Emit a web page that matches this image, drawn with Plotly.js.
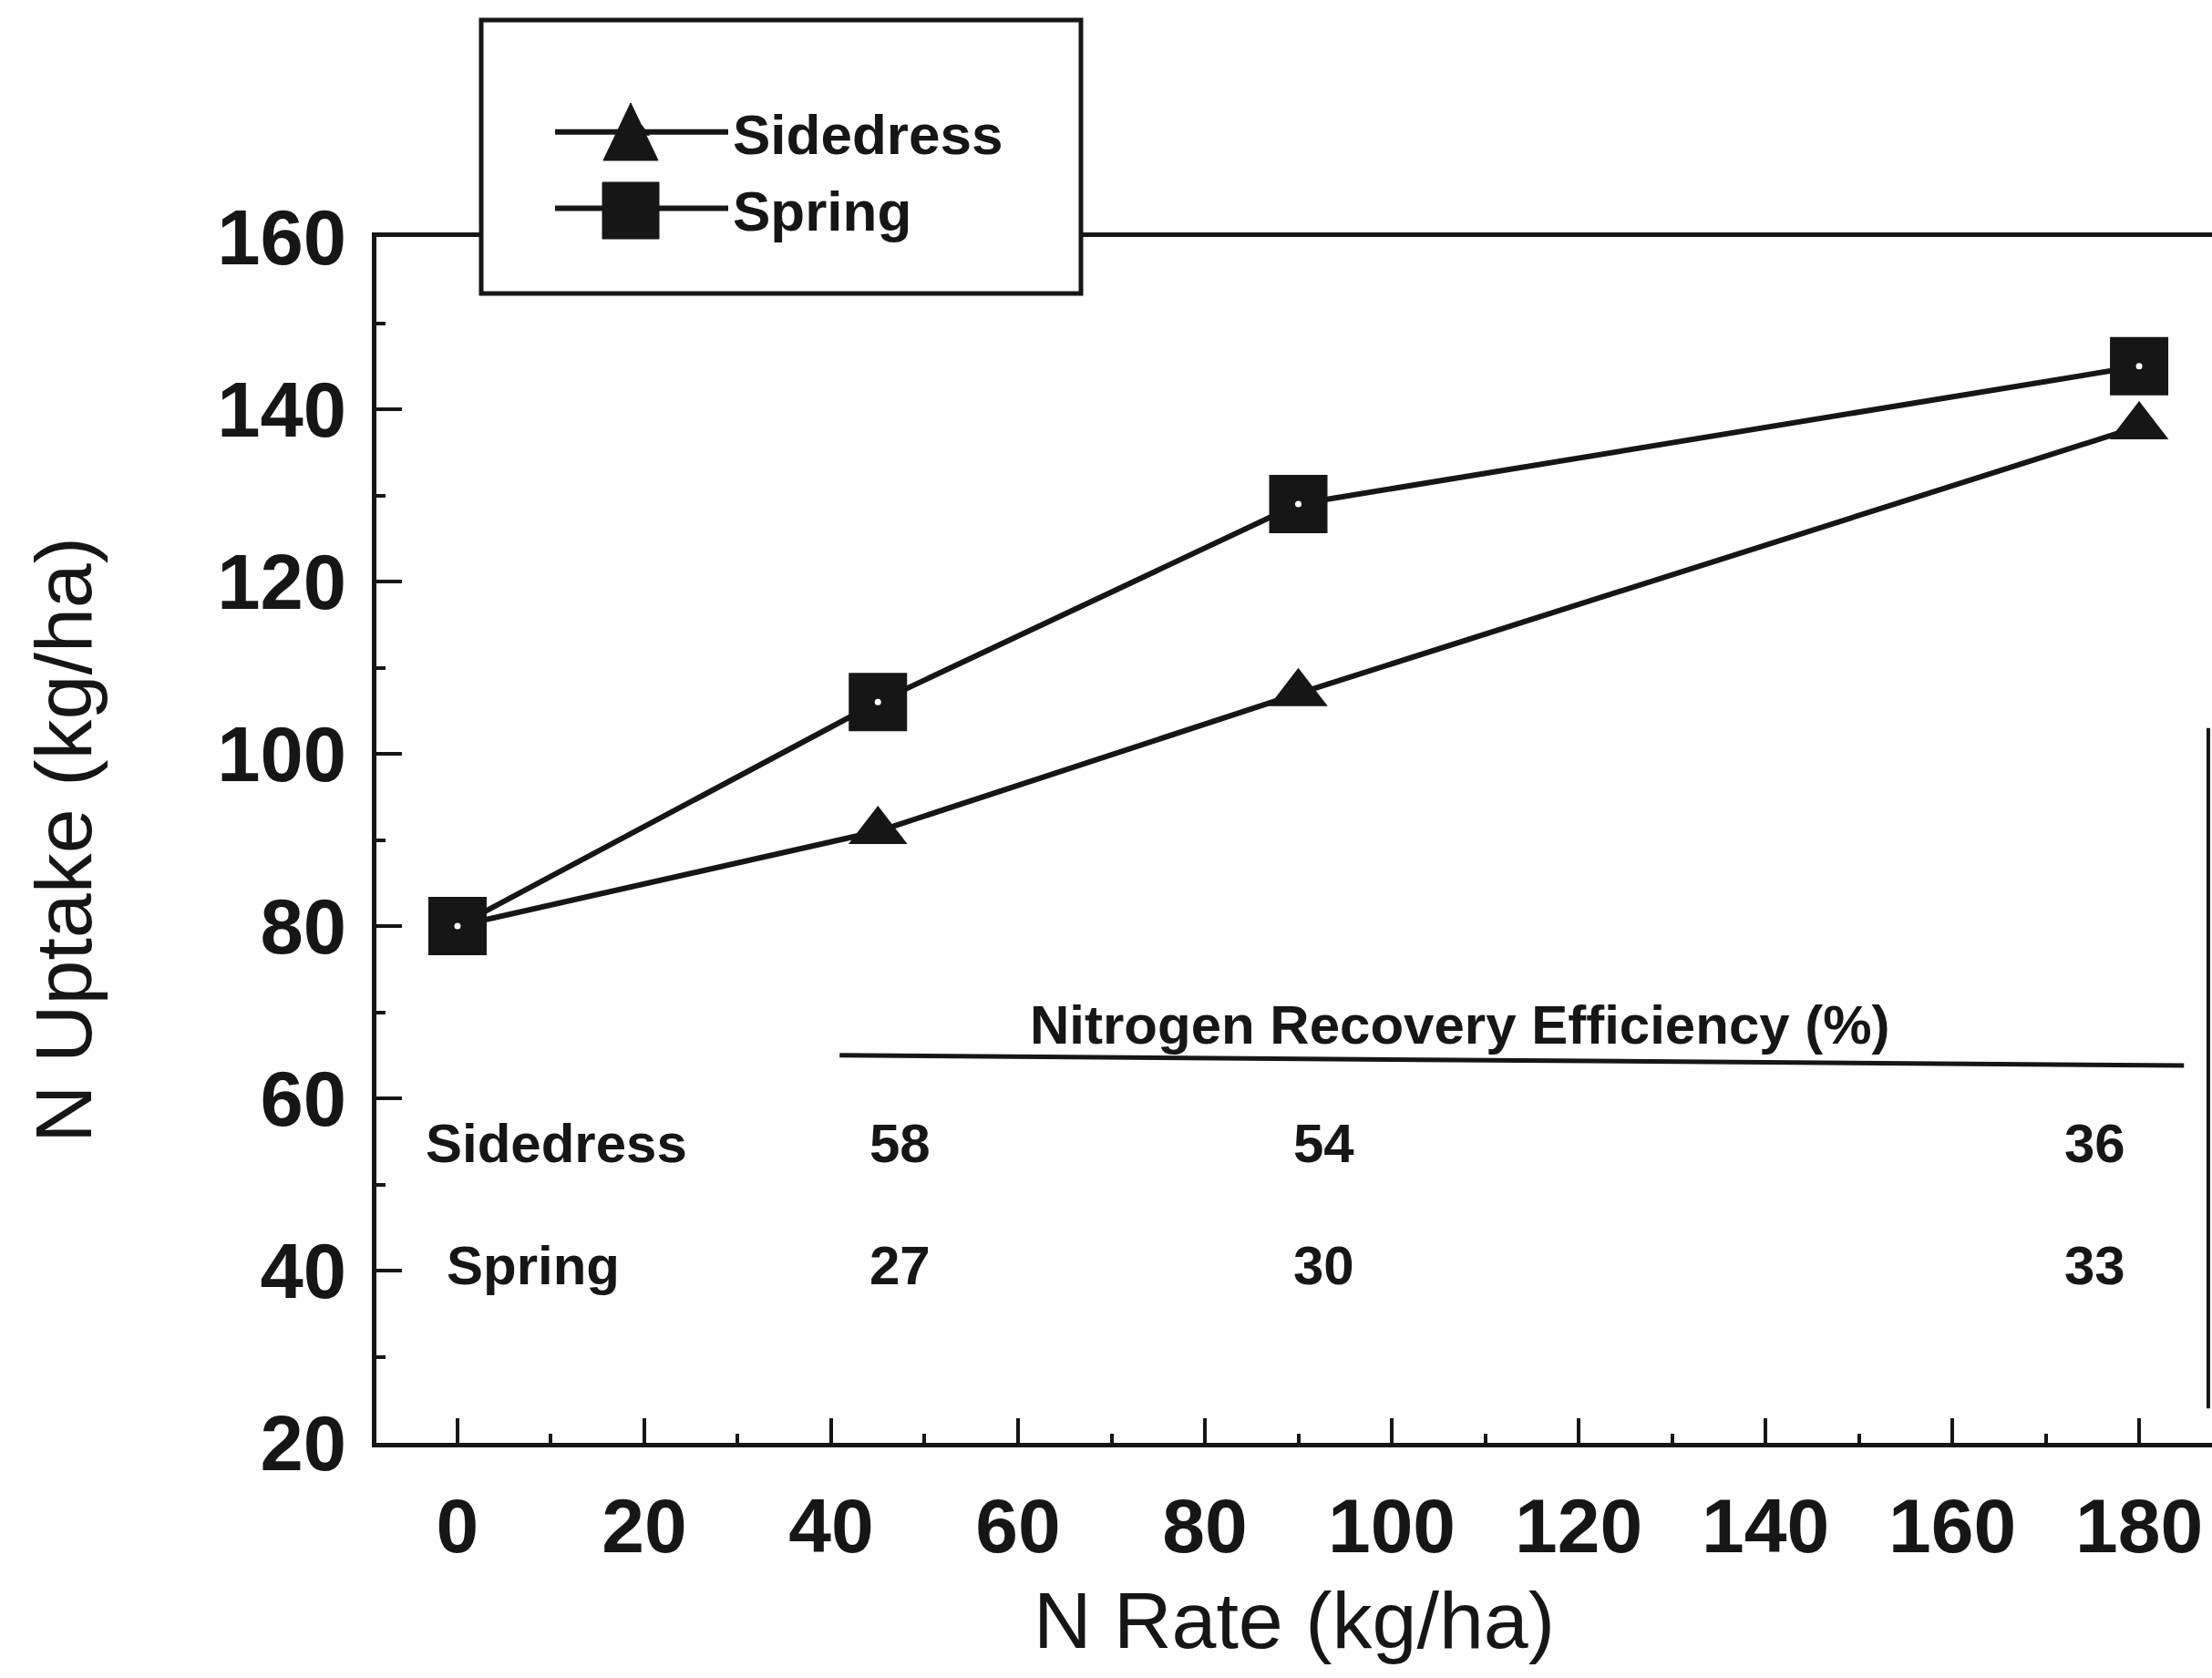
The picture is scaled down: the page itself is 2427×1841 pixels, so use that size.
<!DOCTYPE html>
<html>
<head>
<meta charset="utf-8">
<script src="https://cdn.plot.ly/plotly-3.0.1.min.js"></script>
<style>
  html, body { margin: 0; padding: 0; background: #ffffff; }
  #chart { width: 2427px; height: 1841px; }
</style>
</head>
<body>
<div id="chart"></div>
<script>
// ---- data ----
const nRate = [0, 45, 90, 180];                 // N rate (kg/ha)
const sidedressUptake = [80, 91, 107, 138];     // N uptake (kg/ha)
const springUptake = [80, 106, 129, 145];       // N uptake (kg/ha)

const tableTitle = 'Nitrogen Recovery Efficiency (%)';
const tableRowLabels = ['Sidedress', 'Spring'];
const sidedressNRE = [58, 54, 36];
const springNRE = [27, 30, 33];

const xTickVals = [0, 20, 40, 60, 80, 100, 120, 140, 160, 180];
const yTickVals = [20, 40, 60, 80, 100, 120, 140, 160];

// ---- styling / positions (not data) ----
const FONT = 'Liberation Sans, Arial, Helvetica, sans-serif';
const INK = '#161616';
const colX = [47.4, 92.7, 175.3];
const rowY = [54.8, 40.6];
const rowLabelX = [10.6, 8.1];

const traces = [
  {
    x: nRate, y: sidedressUptake, name: 'Sidedress', type: 'scatter', mode: 'lines+markers',
    line: { color: INK, width: 6 },
    marker: { symbol: 'triangle-up', size: 56, color: INK },
    hoverinfo: 'skip'
  },
  {
    x: nRate, y: springUptake, name: 'Spring', type: 'scatter', mode: 'lines+markers',
    line: { color: INK, width: 6 },
    marker: { symbol: 'square', size: 64, color: INK },
    hoverinfo: 'skip'
  },
  {
    x: nRate, y: springUptake, name: 'Spring centre', type: 'scatter', mode: 'markers',
    marker: { symbol: 'circle', size: 7, color: '#ffffff' },
    showlegend: false, hoverinfo: 'skip'
  }
];

const annotations = [];
annotations.push({
  x: 107.3, y: 68.5, xref: 'x', yref: 'y', text: tableTitle, showarrow: false,
  font: { family: FONT, size: 60, color: INK, weight: 'bold' }, xanchor: 'center', yanchor: 'middle'
});
const nreRows = [sidedressNRE, springNRE];
tableRowLabels.forEach(function (lab, r) {
  annotations.push({
    x: rowLabelX[r], y: rowY[r], xref: 'x', yref: 'y', text: lab, showarrow: false,
    font: { family: FONT, size: 60, color: INK, weight: 'bold' }, xanchor: 'center', yanchor: 'middle'
  });
  nreRows[r].forEach(function (v, c) {
    annotations.push({
      x: colX[c], y: rowY[r], xref: 'x', yref: 'y', text: String(v), showarrow: false,
      font: { family: FONT, size: 60, color: INK, weight: 'bold' }, xanchor: 'center', yanchor: 'middle'
    });
  });
});

// pixel -> paper helpers for legend decoration
const PL = 413, PR = 2427, PT = 260, PB = 1583;
function px(x) { return (x - PL) / (PR - PL); }
function py(y) { return (PB - y) / (PB - PT); }

const gx = 692; // legend glyph centre (px)
const shapes = [
  // underline of the efficiency table title
  { type: 'line', xref: 'x', yref: 'y', x0: 40.9, x1: 184.8, y0: 65.0, y1: 63.8,
    line: { color: INK, width: 5 } },
  // partial right frame edge
  { type: 'line', xref: 'paper', yref: 'y', x0: 0.998, x1: 0.998, y0: 24, y1: 103,
    line: { color: INK, width: 4 } },
  // legend box
  { type: 'rect', xref: 'paper', yref: 'paper', layer: 'above',
    x0: px(528), x1: px(1186), y0: py(322), y1: py(22),
    fillcolor: '#ffffff', line: { color: INK, width: 5 } },
  // enlarged legend glyphs
  { type: 'path', xref: 'paper', yref: 'paper', layer: 'above',
    path: 'M' + px(gx - 30) + ',' + py(176) + ' L' + px(gx + 30) + ',' + py(176) + ' L' + px(gx) + ',' + py(113) + ' Z',
    fillcolor: INK, line: { color: INK, width: 1 } },
  { type: 'rect', xref: 'paper', yref: 'paper', layer: 'above',
    x0: px(gx - 31), x1: px(gx + 31), y0: py(262), y1: py(200),
    fillcolor: INK, line: { color: INK, width: 1 } }
];

const layout = {
  width: 2427, height: 1841,
  margin: { l: PL, r: 2427 - PR, t: PT, b: 1841 - PB, pad: 0 },
  paper_bgcolor: '#ffffff', plot_bgcolor: '#ffffff',
  font: { family: FONT, color: INK },
  showlegend: true,
  legend: {
    x: px(604), y: py(98), xanchor: 'left', yanchor: 'top',
    bgcolor: 'rgba(0,0,0,0)', borderwidth: 0,
    font: { family: FONT, size: 62, color: INK, weight: 'bold' },
    itemwidth: 190, traceorder: 'normal', tracegroupgap: 0
  },
  xaxis: {
    range: [-8.68, 187.8], tickmode: 'array', tickvals: xTickVals,
    ticks: 'inside', ticklen: 27, tickwidth: 4, tickcolor: INK,
    minor: { dtick: 10, tick0: 0, ticks: 'inside', ticklen: 10, tickwidth: 4, tickcolor: INK },
    showline: true, linewidth: 5, linecolor: INK, mirror: true,
    showgrid: false, zeroline: false,
    tickfont: { family: FONT, size: 84, color: INK, weight: 'bold' },
    ticklabelstandoff: 14,
    title: { text: 'N Rate (kg/ha)', font: { family: FONT, size: 88, color: INK }, standoff: 28 }
  },
  yaxis: {
    range: [20, 160], tickmode: 'array', tickvals: yTickVals,
    ticks: 'inside', ticklen: 28, tickwidth: 4, tickcolor: INK,
    minor: { dtick: 10, tick0: 0, ticks: 'inside', ticklen: 10, tickwidth: 4, tickcolor: INK },
    showline: true, linewidth: 5, linecolor: INK, mirror: false,
    showgrid: false, zeroline: false,
    tickfont: { family: FONT, size: 85, color: INK, weight: 'bold' },
    ticklabelstandoff: 11,
    title: { text: 'N Uptake (kg/ha)', font: { family: FONT, size: 88, color: INK }, standoff: 110 }
  },
  annotations: annotations,
  shapes: shapes
};

Plotly.newPlot('chart', traces, layout, { displayModeBar: false, staticPlot: true });
</script>
</body>
</html>
